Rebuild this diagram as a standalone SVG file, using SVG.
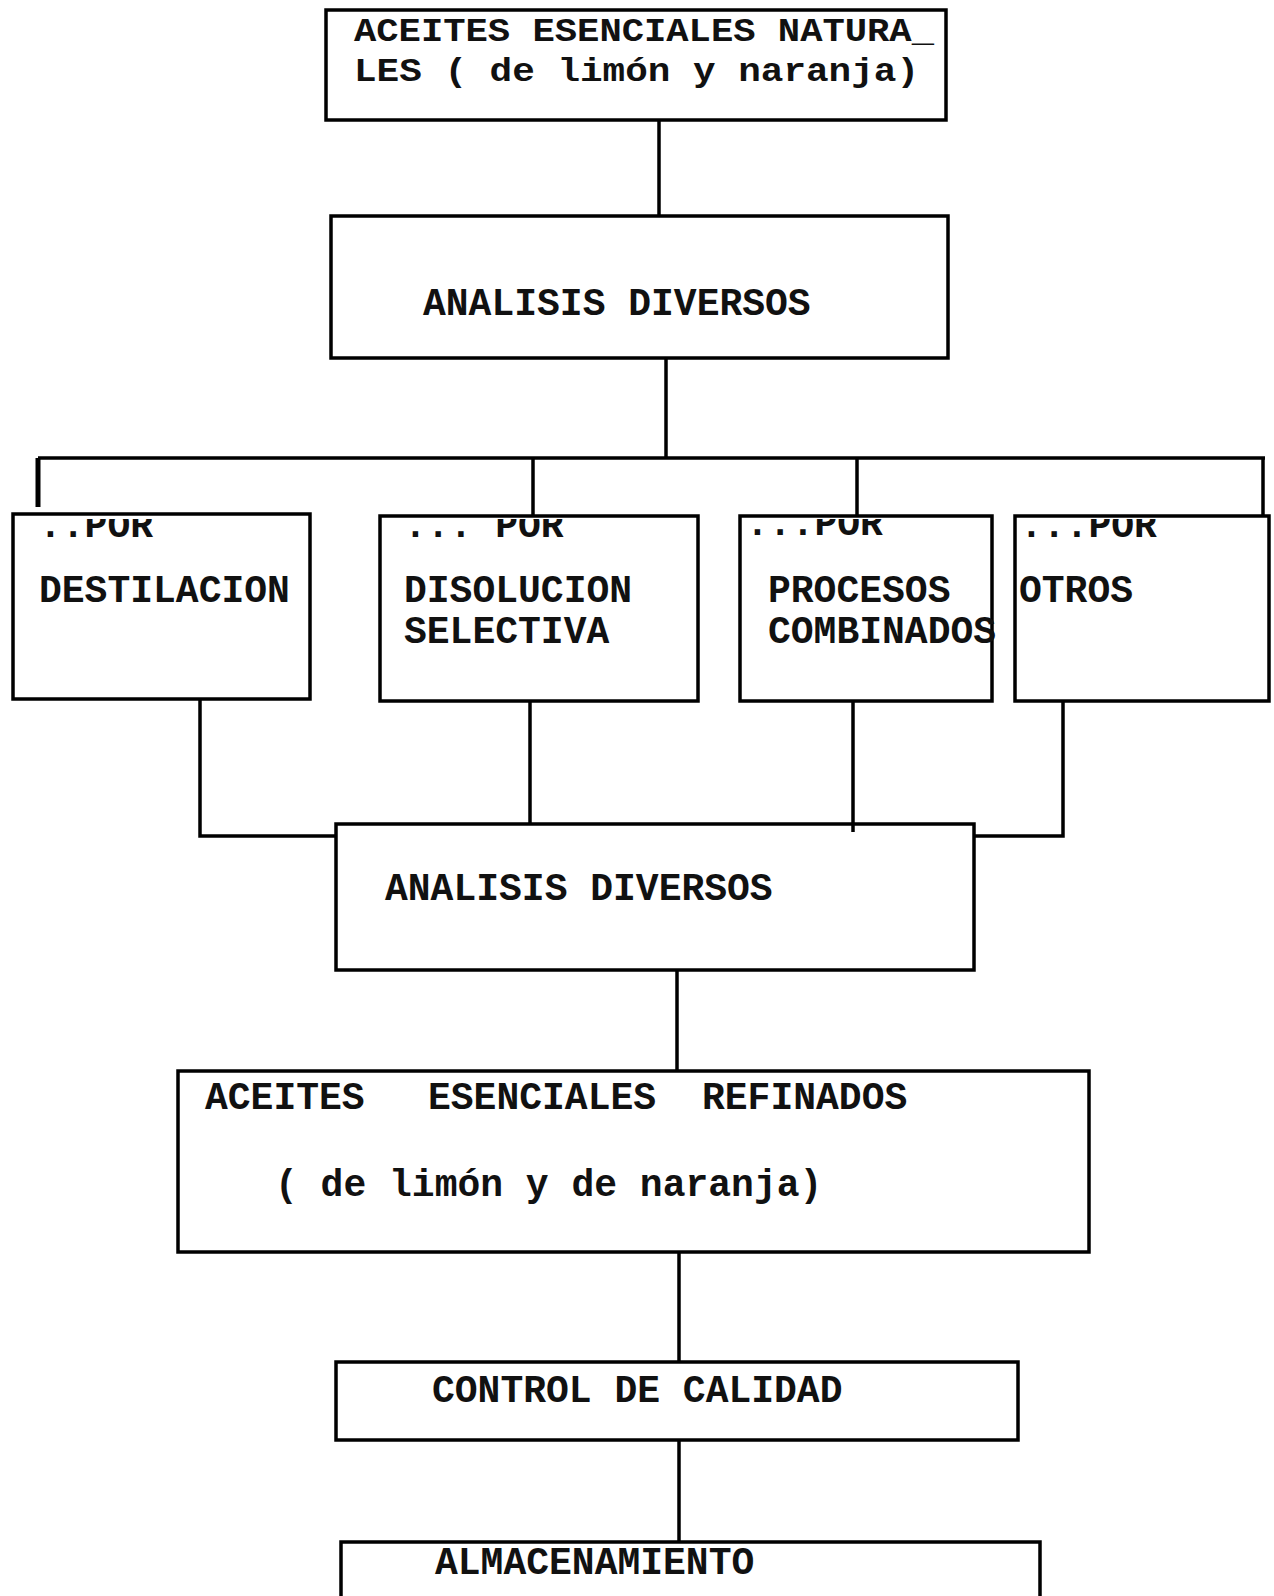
<svg xmlns="http://www.w3.org/2000/svg" width="1274" height="1596" viewBox="0 0 1274 1596">
<style>
.box{fill:none;stroke:#000;stroke-width:3.5}
.ln{fill:none;stroke:#000;stroke-width:3.5}
.t{font-family:"Liberation Mono","DejaVu Sans Mono",monospace;font-size:38px;font-weight:bold;fill:#111}
.ts{font-size:34px}
</style>
<defs>
<clipPath id="porclip" clipPathUnits="userSpaceOnUse"><rect x="0" y="519" width="1274" height="60"/></clipPath>
</defs>
<rect width="1274" height="1596" fill="#fff"/>
<g id="connectors">
<line class="ln" x1="659" y1="120" x2="659" y2="216"/>
<line class="ln" x1="666" y1="358" x2="666" y2="458"/>
<line class="ln" x1="38" y1="458" x2="1265" y2="458"/>
<line class="ln" x1="38" y1="458" x2="38" y2="507" style="stroke-width:5"/>
<line class="ln" x1="533" y1="458" x2="533" y2="516"/>
<line class="ln" x1="857" y1="458" x2="857" y2="516"/>
<line class="ln" x1="1263" y1="458" x2="1263" y2="516"/>
<polyline class="ln" points="200,699 200,836 336,836"/>
<line class="ln" x1="530" y1="701" x2="530" y2="824"/>
<line class="ln" x1="853" y1="701" x2="853" y2="832"/>
<polyline class="ln" points="1063,701 1063,836 974,836"/>
<line class="ln" x1="677" y1="970" x2="677" y2="1071"/>
<line class="ln" x1="679" y1="1252" x2="679" y2="1362"/>
<line class="ln" x1="679" y1="1440" x2="679" y2="1542"/>
</g>
<g id="n1">
<rect class="box" x="326" y="10" width="620" height="110"/>
<text class="t ts" x="354" y="41" textLength="580" lengthAdjust="spacingAndGlyphs">ACEITES ESENCIALES NATURA_</text>
<text class="t ts" x="354" y="81" textLength="565" lengthAdjust="spacingAndGlyphs">LES ( de limón y naranja)</text>
</g>
<g id="n2">
<rect class="box" x="331" y="216" width="617" height="142"/>
<text class="t" x="423" y="315">ANALISIS DIVERSOS</text>
</g>
<g id="n3">
<rect class="box" x="13" y="514" width="297" height="185"/>
<text class="t" x="39" y="537" clip-path="url(#porclip)">..POR</text>
<text class="t" x="39" y="602">DESTILACION</text>
</g>
<g id="n4">
<rect class="box" x="380" y="516" width="318" height="185"/>
<text class="t" x="404" y="537" clip-path="url(#porclip)">... POR</text>
<text class="t" x="404" y="602">DISOLUCION</text>
<text class="t" x="404" y="643">SELECTIVA</text>
</g>
<g id="n5">
<rect class="box" x="740" y="516" width="252" height="185"/>
<text class="t" x="746" y="535" clip-path="url(#porclip)">...POR</text>
<text class="t" x="768" y="602">PROCESOS</text>
<text class="t" x="768" y="643">COMBINADOS</text>
</g>
<g id="n6">
<rect class="box" x="1015" y="516" width="254" height="185"/>
<text class="t" x="1020" y="537" clip-path="url(#porclip)">...POR</text>
<text class="t" x="1019" y="602">OTROS</text>
</g>
<g id="n7">
<rect class="box" x="336" y="824" width="638" height="146"/>
<text class="t" x="385" y="900">ANALISIS DIVERSOS</text>
</g>
<g id="n8">
<rect class="box" x="178" y="1071" width="911" height="181"/>
<text class="t" y="1109"><tspan x="205">ACEITES</tspan><tspan x="428">ESENCIALES</tspan><tspan x="702">REFINADOS</tspan></text>
<text class="t" x="275" y="1196">( de limón y de naranja)</text>
</g>
<g id="n9">
<rect class="box" x="336" y="1362" width="682" height="78"/>
<text class="t" x="432" y="1402">CONTROL DE CALIDAD</text>
</g>
<g id="n10">
<path class="box" d="M341,1600 L341,1542 L1040,1542 L1040,1600"/>
<text class="t" x="435" y="1574">ALMACENAMIENTO</text>
</g>
</svg>
